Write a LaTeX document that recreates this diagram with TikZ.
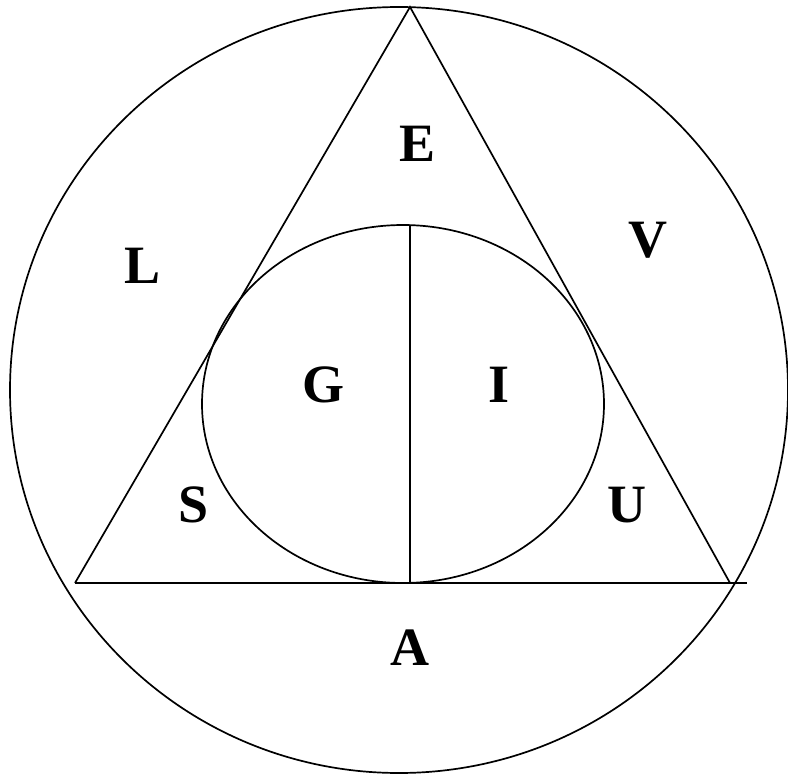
\documentclass[tikz,border=0pt]{standalone}
\usepackage{fontspec}
\setmainfont{Liberation Serif}
\usetikzlibrary{positioning}

\begin{document}
\begin{tikzpicture}[
  x=1pt,y=-1pt,
  linha/.style={draw,line width=1.7pt},
  letra/.style={font=\fontsize{54}{60}\selectfont\bfseries,inner sep=0pt}
]
\useasboundingbox (0,0) rectangle (788,776);
% circulo externo
\draw[linha] (399,390) ellipse [x radius=389,y radius=383];
% triangulo
\coordinate (topo) at (410,7);
\coordinate (esq) at (75,583);
\coordinate (dir) at (730,583);
\coordinate (fim) at (747,583);
\draw[linha] (esq)--(topo)--(dir);
\draw[linha] (esq)--(fim);
% circulo interno
\draw[linha] (403,404) ellipse [x radius=201,y radius=179];
\coordinate (meio) at (410,225);
\coordinate (base) at (410,583);
\draw[linha] (meio)--(base);

\node[letra] (e) at (418,144) {E};
\node[letra] (l) at (143,266) {L};
\node[letra] (v) at (648,240) {V};
\node[letra] (g) at (323,385) {G};
\node[letra] (i) at (499,385) {I};
\node[letra] (s) at (194,505) {S};
\node[letra] (u) at (627,505) {U};
\node[letra] (a) at (410,648) {A};
\end{tikzpicture}
\end{document}
